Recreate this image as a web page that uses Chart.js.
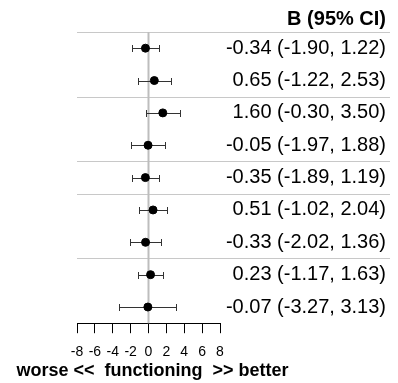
<!DOCTYPE html>
<html>
<head>
<meta charset="utf-8">
<script src="https://cdn.jsdelivr.net/npm/chart.js@4/dist/chart.umd.min.js"></script>
<style>
  html, body { margin: 0; padding: 0; background: #fff; }
  #wrap { width: 398px; height: 383px; position: relative; }
</style>
</head>
<body>
<div id="wrap"><canvas id="forest"></canvas></div>
<script>
// данные: оценка B и 95% доверительный интервал
const rows = [1, 2, 3, 4, 5, 6, 7, 8, 9];
const estimates = [-0.34, 0.65, 1.60, -0.05, -0.35, 0.51, -0.33, 0.23, -0.07];
const lower = [-1.90, -1.22, -0.30, -1.97, -1.89, -1.02, -2.02, -1.17, -3.27];
const upper = [1.22, 2.53, 3.50, 1.88, 1.19, 2.04, 1.36, 1.63, 3.13];
// разделители групп (между строками)
const groupBreaks = [0.5, 2.5, 4.5, 5.5, 7.5];
const xTicks = [-8, -6, -4, -2, 0, 2, 4, 6, 8];
const header = 'B (95% CI)';
const axisTitle = 'worse <<  functioning  >> better';

const FONT = '"Liberation Sans", Arial, sans-serif';

const forestPlugin = {
    id: 'forest',
    beforeDatasetsDraw(chart) {
        const ctx = chart.ctx;
        const x = chart.scales.x, y = chart.scales.y;
        const area = chart.chartArea;
        ctx.save();
        // горизонтальные разделители
        ctx.strokeStyle = '#c8c8c8';
        ctx.lineWidth = 1;
        groupBreaks.forEach(b => {
            const py = Math.round(y.getPixelForValue(b)) + 0.5;
            ctx.beginPath();
            ctx.moveTo(area.left, py);
            ctx.lineTo(chart.width - 8, py);
            ctx.stroke();
        });
        // линия нуля
        ctx.strokeStyle = '#bdbdbd';
        ctx.lineWidth = 2;
        const zx = x.getPixelForValue(0);
        ctx.beginPath();
        ctx.moveTo(zx, area.top);
        ctx.lineTo(zx, area.bottom);
        ctx.stroke();
        // доверительные интервалы
        ctx.strokeStyle = '#333';
        ctx.lineWidth = 1;
        rows.forEach((r, i) => {
            const py = Math.round(y.getPixelForValue(r)) + 0.5;
            const x1 = Math.round(x.getPixelForValue(lower[i])) + 0.5;
            const x2 = Math.round(x.getPixelForValue(upper[i])) + 0.5;
            ctx.beginPath();
            ctx.moveTo(x1, py); ctx.lineTo(x2, py);
            ctx.moveTo(x1, py - 3.5); ctx.lineTo(x1, py + 3.5);
            ctx.moveTo(x2, py - 3.5); ctx.lineTo(x2, py + 3.5);
            ctx.stroke();
        });
        ctx.restore();
    },
    afterDraw(chart) {
        const ctx = chart.ctx;
        const y = chart.scales.y;
        const x = chart.scales.x;
        const tx = chart.width - 12;
        ctx.save();
        ctx.fillStyle = '#000';
        ctx.textAlign = 'right';
        ctx.textBaseline = 'middle';
        ctx.font = 'bold 20px ' + FONT;
        ctx.fillText(header, tx, 19);
        ctx.font = '20px ' + FONT;
        rows.forEach((r, i) => {
            const label = estimates[i].toFixed(2) + ' (' + lower[i].toFixed(2) + ', ' + upper[i].toFixed(2) + ')';
            ctx.fillText(label, tx, y.getPixelForValue(r));
        });
        // подпись оси (без ограничения ширины)
        ctx.textAlign = 'center';
        ctx.font = 'bold 18px ' + FONT;
        ctx.fillText(axisTitle, x.getPixelForValue(0) + 4, chart.height - 12);
        ctx.restore();
    }
};

new Chart(document.getElementById('forest').getContext('2d'), {
    type: 'scatter',
    data: {
        datasets: [{
            data: rows.map((r, i) => ({ x: estimates[i], y: r })),
            backgroundColor: '#000',
            borderColor: '#000',
            pointRadius: 4,
            pointHoverRadius: 4
        }]
    },
    options: {
        responsive: true,
        maintainAspectRatio: false,
        animation: false,
        events: [],
        layout: { padding: { left: 77, right: 178, top: 32, bottom: 11 } },
        plugins: { legend: { display: false }, tooltip: { enabled: false } },
        scales: {
            x: {
                type: 'linear',
                min: -8,
                max: 8,
                afterBuildTicks: axis => { axis.ticks = xTicks.map(v => ({ value: v })); },
                border: { display: true, color: '#000', width: 1 },
                grid: { drawOnChartArea: false, drawTicks: true, tickLength: 10, color: '#000' },
                ticks: {
                    autoSkip: false,
                    maxRotation: 0,
                    padding: 11,
                    color: '#000',
                    font: { family: FONT, size: 14 }
                }
            },
            y: {
                type: 'linear',
                min: 0.5,
                max: 9.5,
                reverse: true,
                display: false
            }
        }
    },
    plugins: [forestPlugin]
});
</script>
</body>
</html>
